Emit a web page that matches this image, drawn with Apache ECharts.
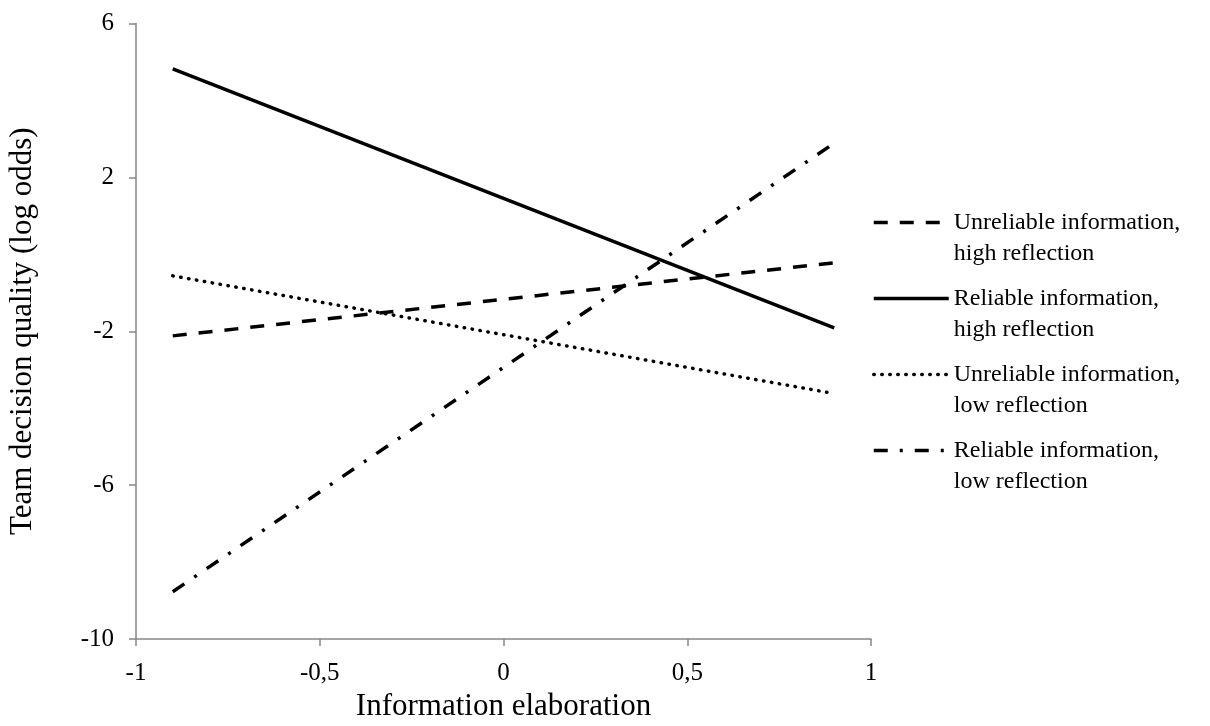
<!DOCTYPE html>
<html>
<head>
<meta charset="utf-8">
<script src="https://cdn.jsdelivr.net/npm/echarts@6/dist/echarts.min.js"></script>
<style>
  html, body { margin: 0; padding: 0; background: #ffffff; }
  #chart { width: 1210px; height: 726px; }
</style>
</head>
<body>
<div id="chart"></div>
<script>
// ---- data ----
const xValues = [-0.9, 0.9];
const seriesNames = [
  'Unreliable information,\nhigh reflection',
  'Reliable information,\nhigh reflection',
  'Unreliable information,\nlow reflection',
  'Reliable information,\nlow reflection'
];
const unreliableHigh = [-2.12, -0.22];
const reliableHigh = [4.82, -1.91];
const unreliableLow = [-0.56, -3.62];
const reliableLow = [-8.77, 2.89];
const xTitle = 'Information elaboration';
const yTitle = 'Team decision quality (log odds)';

const FONT = "'Liberation Serif', 'Times New Roman', serif";
const AXIS_COLOR = '#868686';

function pairs(ys) { return xValues.map((x, i) => [x, ys[i]]); }

const styles = [
  { type: [14, 12], cap: 'butt' },
  { type: 'solid', cap: 'butt' },
  { type: [0.5, 7.5], cap: 'round' },
  { type: [14, 12, 3, 12], cap: 'butt' }
];
const values = [unreliableHigh, reliableHigh, unreliableLow, reliableLow];

const chart = echarts.init(document.getElementById('chart'), null, { renderer: 'canvas' });
chart.setOption({
  animation: false,
  backgroundColor: '#ffffff',
  grid: { left: 136, right: 339, top: 23.5, bottom: 87, containLabel: false, outerBoundsMode: 'none' },
  xAxis: {
    type: 'value', min: -1, max: 1, interval: 0.5,
    name: xTitle, nameLocation: 'middle', nameGap: 49,
    nameTextStyle: { fontFamily: FONT, fontSize: 31, color: '#000' },
    axisLine: { show: true, onZero: false, lineStyle: { color: AXIS_COLOR, width: 1.5 } },
    axisTick: { show: true, length: 7, lineStyle: { color: AXIS_COLOR, width: 1.5 } },
    axisLabel: { fontFamily: FONT, fontSize: 25, color: '#000', margin: 22,
      formatter: v => String(v).replace('.', ',') },
    splitLine: { show: false }
  },
  yAxis: {
    type: 'value', min: -10, max: 6, interval: 4,
    name: yTitle, nameLocation: 'middle', nameGap: 98, nameRotate: 90,
    nameTextStyle: { fontFamily: FONT, fontSize: 31, color: '#000' },
    axisLine: { show: true, onZero: false, lineStyle: { color: AXIS_COLOR, width: 1.5 } },
    axisTick: { show: true, length: 7, lineStyle: { color: AXIS_COLOR, width: 1.5 } },
    axisLabel: { fontFamily: FONT, fontSize: 25, color: '#000', margin: 22 },
    splitLine: { show: false }
  },
  legend: {
    orient: 'vertical', left: 872, top: 176, padding: 0,
    itemWidth: 75, itemHeight: 14, itemGap: -17,
    selectedMode: false,
    data: seriesNames,
    formatter: name => '\n' + name,
    itemStyle: { color: 'rgba(0,0,0,0)', borderWidth: 0 },
    lineStyle: { width: 3.5 },
    textStyle: { fontFamily: FONT, fontSize: 24, lineHeight: 31, color: '#000' }
  },
  series: seriesNames.map((name, i) => ({
    name: name,
    type: 'line',
    data: pairs(values[i]),
    symbol: 'none',
    showSymbol: false,
    silent: true,
    color: '#000',
    lineStyle: { color: '#000', width: 3.5, type: styles[i].type, cap: styles[i].cap }
  }))
});
</script>
</body>
</html>
